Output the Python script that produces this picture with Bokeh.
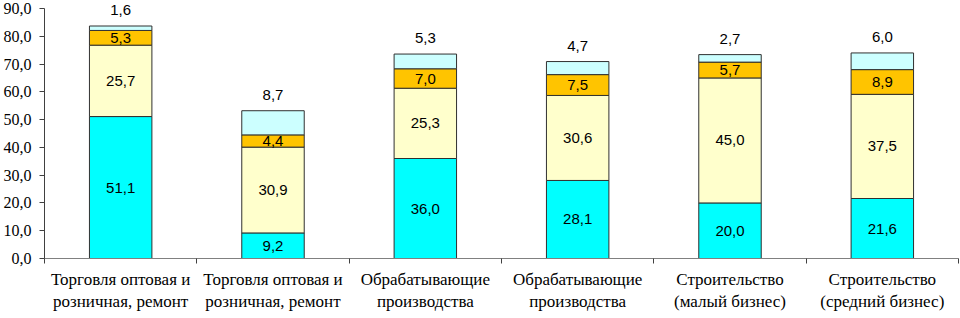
import numpy as np
from bokeh.plotting import figure
from bokeh.models import (ColumnDataSource, FixedTicker, BasicTicker, Range1d,
                          CustomJSTickFormatter, LinearAxis)
from bokeh.core.properties import value
from bokeh.embed import file_html
from bokeh.resources import INLINE

categories = [
    "Торговля оптовая и\nрозничная, ремонт",
    "Торговля оптовая и\nрозничная, ремонт",
    "Обрабатывающие\nпроизводства",
    "Обрабатывающие\nпроизводства",
    "Строительство\n(малый бизнес)",
    "Строительство\n(средний бизнес)",
]
series1 = [51.1, 9.2, 36.0, 28.1, 20.0, 21.6]
series2 = [25.7, 30.9, 25.3, 30.6, 45.0, 37.5]
series3 = [5.3, 4.4, 7.0, 7.5, 5.7, 8.9]
series4 = [1.6, 8.7, 5.3, 4.7, 2.7, 6.0]
y_ticks = [0, 10, 20, 30, 40, 50, 60, 70, 80, 90]
y_tick_labels = ["0,0", "10,0", "20,0", "30,0", "40,0", "50,0", "60,0", "70,0", "80,0", "90,0"]

colors = ["#00FFFF", "#FFFFCC", "#FFC400", "#CCFFFF"]
names = ["s1", "s2", "s3", "s4"]
SANS = "Liberation Sans"
SERIF = "Liberation Serif"

n = len(categories)
x = list(range(n))
boundaries = [i - 0.5 for i in range(n + 1)]

def fmt(v):
    return f"{v:.1f}".replace(".", ",")

src = ColumnDataSource(dict(x=x, s1=series1, s2=series2, s3=series3, s4=series4))

p = figure(width=960, height=318, output_backend="svg", toolbar_location=None,
           x_range=Range1d(-0.5, n - 0.5), y_range=Range1d(0, 92.88),
           x_axis_location=None,
           min_border_left=44, min_border_right=2, min_border_top=0, min_border_bottom=60)
p.background_fill_color = "white"
p.border_fill_color = "white"
p.outline_line_color = None
p.xgrid.visible = False
p.ygrid.visible = False

p.vbar_stack(names, x="x", width=0.41, source=src, fill_color=colors,
             line_color="#303030", line_width=1)

# labels
s1 = np.array(series1); s2 = np.array(series2); s3 = np.array(series3); s4 = np.array(series4)
c1 = s1; c2 = c1 + s2; c3 = c2 + s3; c4 = c3 + s4
lx, ly, lt = [], [], []
for base, top, vals in [(np.zeros(n), c1, s1), (c1, c2, s2), (c2, c3, s3)]:
    for i in range(n):
        lx.append(x[i]); ly.append((base[i] + top[i]) / 2); lt.append(fmt(vals[i]))
lsrc = ColumnDataSource(dict(x=lx, y=ly, t=lt))
p.text(x="x", y="y", text="t", source=lsrc, text_align="center", text_baseline="middle",
       text_font=value(SANS), text_font_size="15px", text_color="black")

tsrc = ColumnDataSource(dict(x=x, y=list(c4), t=[fmt(v) for v in series4]))
p.text(x="x", y="y", text="t", source=tsrc, text_align="center", text_baseline="middle",
       y_offset=-16, text_font=value(SANS), text_font_size="15px", text_color="black")

# y axis
p.yaxis.ticker = BasicTicker(desired_num_ticks=10, num_minor_ticks=0)
p.yaxis.bounds = (0, 90)
p.yaxis.formatter = CustomJSTickFormatter(
    args=dict(yt=y_ticks, yl=y_tick_labels),
    code="const i = yt.indexOf(Math.round(tick)); return i >= 0 ? yl[i] : '';")
p.yaxis.major_label_text_font = SERIF
p.yaxis.major_label_text_font_size = "16px"
p.yaxis.major_label_text_color = "black"
p.yaxis.major_tick_out = 5
p.yaxis.major_tick_in = 0
p.yaxis.minor_tick_out = 0
p.yaxis.minor_tick_in = 0
p.yaxis.major_label_standoff = 8
p.yaxis.axis_line_color = "#404040"
p.yaxis.major_tick_line_color = "#404040"

# x axis: tick marks between categories
tick_axis = LinearAxis(
    ticker=FixedTicker(ticks=boundaries, minor_ticks=[]),
    formatter=CustomJSTickFormatter(code="return '';"),
    major_tick_out=5, major_tick_in=0, minor_tick_out=0, minor_tick_in=0,
    major_label_standoff=0, major_label_text_font_size="1px",
    axis_line_color="#808080", major_tick_line_color="#404040")
p.add_layout(tick_axis, "below")

# x axis: category labels
label_axis = LinearAxis(
    ticker=BasicTicker(desired_num_ticks=6, num_minor_ticks=0),
    formatter=CustomJSTickFormatter(
        args=dict(cats=categories),
        code="const i = Math.round(tick); return (i >= 0 && i < cats.length) ? cats[i] : '';"),
    major_tick_out=0, major_tick_in=0, minor_tick_out=0, minor_tick_in=0,
    major_label_standoff=6,
    major_label_text_font=SERIF, major_label_text_font_size="17px",
    major_label_text_color="black",
    axis_line_color=None, major_tick_line_color=None, minor_tick_line_color=None)
p.add_layout(label_axis, "below")

open("out.html", "w").write(file_html(p, INLINE))
